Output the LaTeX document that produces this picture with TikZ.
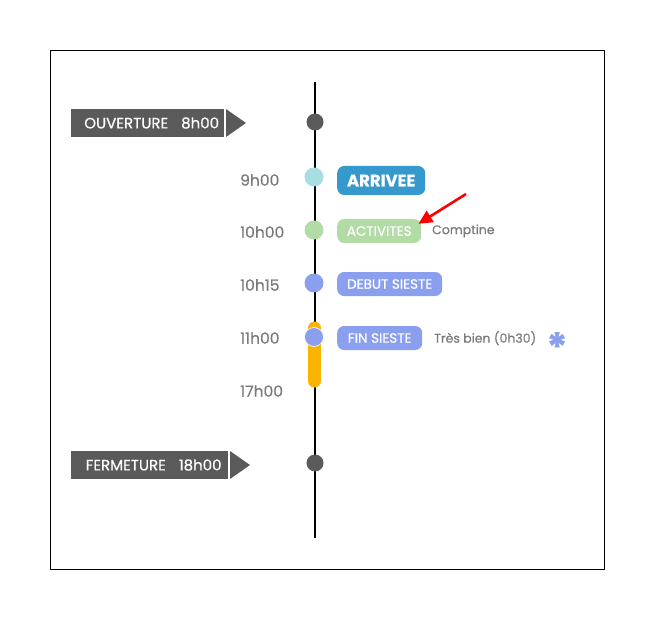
\documentclass[tikz,border=0pt]{standalone}
\usepackage{fontspec}
\setmainfont{Poppins}[FakeBold=0.5]
\usetikzlibrary{arrows.meta,calc}
\definecolor{darkg}{HTML}{5A5A5A}
\definecolor{txtg}{HTML}{7A7A7A}
\definecolor{cyanl}{HTML}{A8DDE4}
\definecolor{blue1}{HTML}{3699CD}
\definecolor{green1}{HTML}{B3DBA6}
\definecolor{viol}{HTML}{8AA0EE}
\definecolor{orng}{HTML}{F9B400}
\tikzset{
  dot/.style={circle,inner sep=0pt,minimum size=19pt},
  timelbl/.style={anchor=west,text=txtg,font=\fontsize{15.5}{15.5}\selectfont,inner sep=0pt},
  evbox/.style={rounded corners=7pt,text=white,anchor=west,inner sep=0pt,minimum height=24pt,font=\fontsize{13.5}{13.5}\selectfont},
  note/.style={anchor=west,text=txtg,font=\fontsize{12.5}{12.5}\selectfont,inner sep=0pt},
  banner/.style={fill=darkg,text=white,anchor=west,inner sep=0pt,minimum height=28pt,font=\fontsize{15}{15}\selectfont},
}
\begin{document}
\begin{tikzpicture}[x=1pt,y=-1pt]
\useasboundingbox (0,0) rectangle (655,620);
\draw[line width=0.8pt] (50,50) rectangle (604,569);
\coordinate (top) at (315,82);
\coordinate (bot) at (315,538);
\draw[line width=1.8pt] (top) -- (bot);
% orange bar
\draw[orng,line width=13pt,line cap=round] (314.5,328) -- (314.5,381);
% dots
\node[dot,fill=darkg,minimum size=17pt] (d0) at (315,122) {};
\node[dot,fill=cyanl] (d1) at (314,177) {};
\node[dot,fill=green1] (d2) at (314,230) {};
\node[dot,fill=viol] (d3) at (314,283) {};
\node[dot,fill=viol,draw=white,line width=0.6pt] (d4) at (314,337) {};
\node[dot,fill=darkg,minimum size=17pt] (d5) at (315,463) {};
% banners
\node[banner,minimum width=153pt] (ouv) at (71,123) {\hspace*{8pt}OUVERTURE\hspace{13pt}8h00\hfill};
\path[fill=darkg] (226,109) -- (246,123) -- (226,137) -- cycle;
\node[banner,minimum width=157pt] (fer) at (71,465) {\hspace*{8pt}FERMETURE\hspace{13pt}18h00\hfill};
\path[fill=darkg] (230,451) -- (250,465) -- (230,479) -- cycle;
% time labels
\node[timelbl] (t1) at (240,180) {9h00};
\node[timelbl] (t2) at (240,232) {10h00};
\node[timelbl] (t3) at (240,285) {10h15};
\node[timelbl] (t4) at (240,338) {11h00};
\node[timelbl] (t5) at (240,391) {17h00};
% event boxes
\node[evbox,fill=blue1,minimum width=88pt,minimum height=29pt,font=\fontsize{16.5}{16.5}\selectfont\bfseries] (e1) at (337,180.5) {\hfill ARRIVEE\hfill};
\node[evbox,fill=green1,minimum width=84pt] (e2) at (337,231) {\hfill ACTIVITES\hfill};
\node[evbox,fill=viol,minimum width=105pt] (e3) at (337,284) {\hfill DEBUT SIESTE\hfill};
\node[evbox,fill=viol,minimum width=85pt] (e4) at (337,338) {\hfill FIN SIESTE\hfill};
% notes
\node[note] (n2) at (432,231) {Comptine};
\node[note] (n4) at (434,338) {Très bien (0h30)};
\node[text=viol,font=\fontsize{40}{40}\selectfont\bfseries,inner sep=0pt] (ast) at (557,347) {*};
% red arrow
\coordinate (arrstart) at (466,194);
\draw[red,line width=2.6pt,-{Triangle[length=14pt,width=13pt]}] (arrstart) -- ($(e2.north east)+(-3,5)$);
\end{tikzpicture}
\end{document}
